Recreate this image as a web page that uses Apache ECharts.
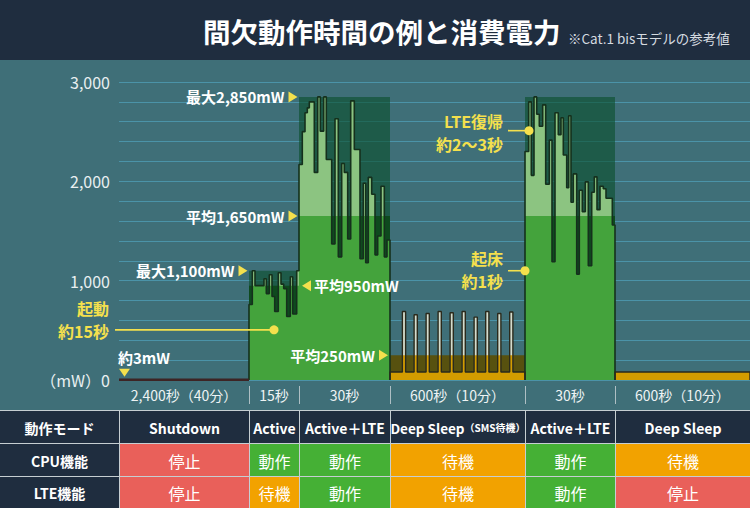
<!DOCTYPE html>
<html><head><meta charset="utf-8">
<script src="https://cdn.jsdelivr.net/npm/echarts@6/dist/echarts.min.js"></script>
<style>html,body{margin:0;padding:0;background:#3f6f78;}#c{width:750px;height:508px;}</style>
</head><body><div id="c"></div>
<script>
const FONT = '"Noto Sans CJK JP","Noto Sans",sans-serif';

// ---- data ----
const segEdges = [0, 130, 180, 271, 406, 496, 631];           // display time units
const segDuration = ['2,400秒（40分）', '15秒', '30秒', '600秒（10分）', '30秒', '600秒（10分）'];
const modeNames = ['Shutdown', 'Active', 'Active＋LTE', 'Deep Sleep（SMS待機）', 'Active＋LTE', 'Deep Sleep'];
const cpuState = ['停止', '動作', '動作', '待機', '動作', '待機'];
const lteState = ['停止', '待機', '動作', '待機', '動作', '停止'];
const rowHeads = ['動作モード', 'CPU機能', 'LTE機能'];
const yTickValues = [0, 1000, 2000, 3000];
const yTickLabels = ['（mW）0', '1,000', '2,000', '3,000'];

const shutdownMW = 3;
const activeMax = 1100, activeAvg = 950;
const lteMax = 2850, lteAvg = 1650;
const sleepAvg = 250, sleepBaseMW = 80;

const activeWave = [[130,760],[133.3,1100],[136,950],[145,1020],[147.3,870],[150.3,1060],[153,840],[155.7,690],
  [159.3,1080],[162,965],[164.7,920],[167.7,640],[171.3,1040],[173.7,665],[177.7,1100]];
const lte1Wave = [[180,2170],[183.3,2500],[186,2690],[188.3,2740],[190.3,2800],[195.3,2090],[198.7,2850],[201.3,2505],
  [204.7,2850],[207.3,2220],[212.7,1370],[216,2630],[219.3,1240],[222.7,2180],[225.3,2090],[228.7,1420],[231.7,2810],
  [235.3,2320],[241,1220],[244.3,1980],[246.7,1180],[249.3,2040],[252.7,1870],[256,1260],[258.7,1450],[262,1950],
  [265.3,1240],[268,1410]];
const lte2Wave = [[406,2300],[409.7,2800],[412.3,2060],[415,2850],[417.7,2675],[420.3,2555],[423.7,2770],[426.7,1970],
  [430.3,2415],[433,1190],[436,2690],[439.3,2470],[442,2640],[444.3,2265],[447.7,1935],[449.7,2660],[452,1790],
  [454.3,2075],[457.7,1065],[460.3,1910],[463.3,1695],[466.3,1995],[469.3,1150],[472.7,1890],[475.3,2045],[478,1715],
  [481,1950],[484.3,1925],[487,1830],[493.3,1560]];
const sleepSpikeT = [285, 296.7, 308.7, 320.7, 332.7, 344.7, 356.7, 368.3, 380.3, 392.3];
const sleepSpikeMW = [690, 657, 670, 690, 677, 690, 633, 690, 670, 684];

// annotation anchors [t, mW]
const annoStartup = [155, 505];
const annoWake = [406, 1100];
const annoLte = [410, 2510];

// ---- build ----
function wave(points, start, end) {
  const last = points[points.length - 1][1];
  return [[start, 0]].concat(points, [[end, last], [end, 0]]);
}
const greenWave = wave(activeWave.concat(lte1Wave), segEdges[1], segEdges[3]);
const greenClip = greenWave.map(p => [p[0], Math.min(p[1], p[0] < segEdges[2] ? activeAvg : lteAvg)]);
const green2Wave = wave(lte2Wave, segEdges[4], segEdges[5]);
const green2Clip = green2Wave.map(p => [p[0], Math.min(p[1], lteAvg)]);
const sleepPts = [[segEdges[3], sleepBaseMW]];
sleepSpikeT.forEach((t, i) => { sleepPts.push([t - 1.6, sleepSpikeMW[i]]); sleepPts.push([t + 1.6, sleepBaseMW]); });
const sleepWave = wave(sleepPts, segEdges[3], segEdges[4]);
const sleepClip = sleepWave.map(p => [p[0], Math.min(p[1], sleepAvg)]);
const sleep2Wave = wave([[segEdges[5], sleepBaseMW]], segEdges[5], segEdges[6]);

const C = {
  maxBox: 'rgba(8,78,41,0.6)', avgBox: '#0e4a1e', light: '#8cc481', bright: '#44a33c', wline: '#15301c',
  olive: '#57510f', orange: '#d39c00', spike: '#d4dccd', sline: '#2a2a1c'
};
function areaS(data, fill, step) {
  return { type: 'line', data, step: step ? 'end' : false, symbol: 'none', showSymbol: false, silent: true,
    lineStyle: { opacity: 0, width: 0 }, areaStyle: { color: fill, opacity: 1 } };
}
function lineS(data, color, width) {
  return { type: 'line', data, step: 'end', symbol: 'none', showSymbol: false, silent: true,
    lineStyle: { color, width } };
}
function box(t0, t1, v, fill) { return areaS([[t0, v], [t1, v]], fill, false); }

const series = [
  box(segEdges[1], segEdges[2], activeMax, C.maxBox),
  box(segEdges[2], segEdges[3], lteMax, C.maxBox),
  box(segEdges[4], segEdges[5], lteMax, C.maxBox),
  box(segEdges[1], segEdges[2], activeAvg, C.avgBox),
  box(segEdges[2], segEdges[3], lteAvg, C.avgBox),
  box(segEdges[4], segEdges[5], lteAvg, C.avgBox),
  box(segEdges[3], segEdges[4], sleepAvg, C.olive),
  areaS(greenWave, C.light, true), areaS(greenClip, C.bright, true), lineS(greenWave, C.wline, 1.6),
  areaS(green2Wave, C.light, true), areaS(green2Clip, C.bright, true), lineS(green2Wave, C.wline, 1.6),
  areaS(sleepWave, C.spike, true), areaS(sleepClip, C.orange, true), lineS(sleepWave, C.sline, 1.4),
  areaS(sleep2Wave, C.orange, true), lineS(sleep2Wave, C.sline, 1.4),
  { type: 'line', data: [[segEdges[0], shutdownMW], [segEdges[1], shutdownMW]], symbol: 'none', silent: true,
    lineStyle: { color: '#3d2424', width: 2.5 } }
];

const chart = echarts.init(document.getElementById('c'), null, { renderer: 'svg', width: 750, height: 508 });
chart.setOption({
  backgroundColor: '#3f6f78',
  animation: false,
  grid: { left: 119, right: 0, top: 82, bottom: 128, outerBoundsMode: 'none' },
  xAxis: { type: 'value', min: segEdges[0], max: segEdges[segEdges.length - 1], axisLine: { show: false },
    axisTick: { show: false }, splitLine: { show: false }, axisLabel: { show: false } },
  yAxis: { type: 'value', min: 0, max: 3000, interval: 200, axisLine: { show: false }, axisTick: { show: false },
    splitLine: { lineStyle: { color: '#4b93a8', width: 1 } },
    axisLabel: { color: '#e9eff1', fontSize: 16, fontFamily: FONT, margin: 9,
      formatter: v => { const i = yTickValues.indexOf(v); return i >= 0 ? yTickLabels[i] : ''; } } },
  series
});

// ---- overlays ----
const P = (t, v) => chart.convertToPixel({ gridIndex: 0 }, [t, v]);
const g = [];
function txt(text, x, y, font, fill, align, extra) {
  const s = Object.assign({ text, x, y, font, fill, align, verticalAlign: 'middle', textAlign: align, textVerticalAlign: 'middle' }, extra || {});
  g.push({ type: 'text', z: 100, silent: true, style: s });
}
function tri(points, fill) { g.push({ type: 'polygon', z: 100, silent: true, shape: { points }, style: { fill: fill || '#f4e04d' } }); }
const YEL = '#f4e04d';
const WB = 'bold 15px ' + FONT;
const YB = 'bold 16px ' + FONT;

// header
g.push({ type: 'rect', z: 1, shape: { x: 0, y: 0, width: 750, height: 60 }, style: { fill: '#1f2d3f' } });
txt('間欠動作時間の例と消費電力', 203, 31, 'bold 27.5px ' + FONT, '#ffffff', 'left');
txt('※Cat.1 bisモデルの参考値', 568, 38, '13.5px ' + FONT, '#d5dbe0', 'left');

// x duration labels + separators
const colX = [0].concat(segEdges.map(e => Math.round(P(e, 0)[0])));
for (let i = 0; i < segDuration.length; i++) {
  txt(segDuration[i], (colX[i + 1] + colX[i + 2]) / 2, 395, '14px ' + FONT, '#eef3f4', 'center');
}
for (let i = 2; i < colX.length - 1; i++) {
  g.push({ type: 'line', z: 5, silent: true, shape: { x1: colX[i] + 0.5, y1: 386, x2: colX[i] + 0.5, y2: 404 },
    style: { stroke: '#aebfc4', lineWidth: 1 } });
}

// table
const rowY = [410, 443, 476, 508];
const stateColor = { '停止': '#e9605a', '動作': '#45b035', '待機': '#f2a200' };
g.push({ type: 'rect', z: 1, shape: { x: 0, y: rowY[0], width: 750, height: 508 - rowY[0] }, style: { fill: '#c6ced2' } });
const rowsVals = [modeNames, cpuState, lteState];
for (let r = 0; r < 3; r++) {
  for (let i = 0; i < colX.length - 1; i++) {
    const x0 = colX[i] + (i > 0 ? 1 : 0), x1 = colX[i + 1];
    const y0 = rowY[r] + 1, y1 = rowY[r + 1];
    const val = i === 0 ? rowHeads[r] : rowsVals[r][i - 1];
    const fill = (r === 0 || i === 0) ? '#1f2d3f' : stateColor[val];
    g.push({ type: 'rect', z: 2, shape: { x: x0, y: y0, width: x1 - x0, height: y1 - y0 }, style: { fill } });
    const cx = (x0 + x1) / 2, cy = (y0 + y1) / 2 + 0.5;
    if (r === 0 || i === 0) {
      const k = val.indexOf('（');
      if (k > 0) {
        g.push({ type: 'text', z: 100, silent: true, style: {
          text: '{a|' + val.slice(0, k) + '}{b|' + val.slice(k) + '}', x: cx, y: cy,
          align: 'center', verticalAlign: 'middle', textAlign: 'center', textVerticalAlign: 'middle',
          rich: { a: { font: 'bold 13.5px ' + FONT, fill: '#ffffff', color: '#ffffff' },
                  b: { font: 'bold 10px ' + FONT, fill: '#ffffff', color: '#ffffff' } } } });
      } else {
        txt(val, cx, cy, 'bold 14px ' + FONT, '#ffffff', 'center');
      }
    } else {
      txt(val, cx, cy, '16px ' + FONT, '#ffffff', 'center');
    }
  }
}

// value labels
let p = P(segEdges[2], lteMax); let tip = p[0] - 1.5;
tri([[tip - 9, p[1] - 5.5], [tip, p[1]], [tip - 9, p[1] + 5.5]]);
txt('最大2,850mW', tip - 13, p[1], WB, '#ffffff', 'right');
p = P(segEdges[2], lteAvg); tip = p[0] - 1.5;
tri([[tip - 9, p[1] - 5.5], [tip, p[1]], [tip - 9, p[1] + 5.5]]);
txt('平均1,650mW', tip - 13, p[1], WB, '#ffffff', 'right');
p = P(segEdges[1], activeMax); tip = p[0] - 1.5;
tri([[tip - 9, p[1] - 5.5], [tip, p[1]], [tip - 9, p[1] + 5.5]]);
txt('最大1,100mW', tip - 13, p[1], WB, '#ffffff', 'right');
p = P(segEdges[2], activeAvg); tip = p[0] + 3;
tri([[tip + 9, p[1] - 5.5], [tip, p[1]], [tip + 9, p[1] + 5.5]]);
txt('平均950mW', tip + 12, p[1], WB, '#ffffff', 'left');
p = P(segEdges[3], sleepAvg); tip = p[0] - 2;
tri([[tip - 9, p[1] - 5.5], [tip, p[1]], [tip - 9, p[1] + 5.5]]);
txt('平均250mW', tip - 13, p[1], WB, '#ffffff', 'right');
p = P(segEdges[0], shutdownMW);
tri([[p[0], p[1] - 11], [p[0] + 11, p[1] - 11], [p[0] + 5.5, p[1] - 3]]);
txt('約3mW', p[0] - 1, p[1] - 22, WB, '#ffffff', 'left');

// yellow pointers
function pointer(anchor, lineStartX, textRightX, lines, dys) {
  const a = P(anchor[0], anchor[1]);
  g.push({ type: 'line', z: 100, silent: true, shape: { x1: lineStartX, y1: a[1], x2: a[0], y2: a[1] }, style: { stroke: YEL, lineWidth: 1.6 } });
  g.push({ type: 'circle', z: 101, silent: true, shape: { cx: a[0], cy: a[1], r: 4.5 }, style: { fill: YEL } });
  lines.forEach((s, i) => txt(s, textRightX, a[1] + dys[i], YB, YEL, 'right'));
}
const gl = P(segEdges[0], 0)[0];
pointer(annoStartup, gl - 4, gl - 10, ['起動', '約15秒'], [-21.5, 1.5]);
const x4 = P(segEdges[4], 0)[0];
pointer(annoWake, x4 - 17, x4 - 22, ['起床', '約1秒'], [-13, 10]);
pointer(annoLte, x4 - 17, x4 - 22, ['LTE復帰', '約2〜3秒'], [-9.5, 13.5]);

chart.setOption({ graphic: { elements: g } });
</script></body></html>
